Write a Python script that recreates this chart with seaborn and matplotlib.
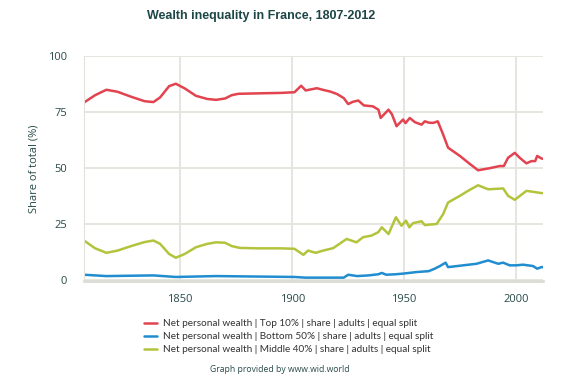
import matplotlib
matplotlib.use("Agg")
import matplotlib.pyplot as plt
import pandas as pd
import seaborn as sns
from matplotlib.lines import Line2D

# Top 10% share
top10_years = [1807, 1812, 1817, 1822, 1828, 1834, 1838, 1841, 1845, 1848, 1852, 1857,
               1862, 1866, 1870, 1873, 1876, 1885, 1895, 1901, 1904, 1906, 1908, 1911,
               1914, 1917, 1920, 1923, 1925, 1927, 1929.5, 1932, 1936, 1938.5, 1939.5,
               1943, 1944.5, 1946.6, 1949.5, 1950.6, 1952.5, 1954.8, 1957.8, 1959.2,
               1961, 1963, 1965, 1967.4, 1969.6, 1974.9, 1979, 1983, 1988, 1992.7,
               1994.5, 1996.4, 1999.4, 2001.6, 2004.6, 2006.8, 2008.5, 2009.4, 2011.3,
               2012]
top10_vals = [79.2, 82.5, 84.9, 84.0, 81.8, 79.8, 79.4, 81.5, 86.5, 87.6, 85.5, 82.2,
              80.8, 80.4, 81.0, 82.5, 83.1, 83.3, 83.5, 83.8, 86.7, 84.6, 85.0, 85.6,
              84.8, 84.1, 83.0, 81.2, 78.5, 79.5, 80.1, 77.9, 77.5, 76.0, 72.3,
              76.0, 74.0, 68.6, 71.6, 70.0, 72.3, 70.4, 69.3, 70.8,
              70.2, 70.1, 70.8, 64.9, 59.0, 55.3, 52.0, 48.9, 49.8, 50.8,
              50.8, 54.5, 56.7, 54.5, 52.0, 53.0, 53.0, 55.3, 54.2,
              54.0]

# Bottom 50% share
bottom50_years = [1807, 1817, 1838, 1848, 1866, 1901, 1906, 1915, 1923, 1925, 1929,
                  1934, 1938.4, 1940, 1942, 1946, 1949.5, 1955.5, 1961, 1963.6, 1966,
                  1968.5, 1969.6, 1976.3, 1982.3, 1987.5, 1992, 1994.2, 1997.1, 2000,
                  2003.1, 2007.5, 2009.4, 2011.3, 2012]
bottom50_vals = [2.2, 1.6, 1.9, 1.2, 1.6, 1.2, 0.9, 0.9, 0.9, 2.2, 1.6,
                 1.9, 2.4, 3.0, 2.2, 2.4, 2.7, 3.4, 3.8, 4.9, 6.1,
                 7.6, 5.6, 6.4, 7.1, 8.6, 7.1, 7.6, 6.4, 6.4,
                 6.7, 6.1, 4.9, 5.6, 5.6]

# Middle 40% share
middle40_years = [1807, 1812, 1817, 1822, 1828, 1834, 1838, 1841, 1845, 1848, 1852,
                  1857, 1862, 1866, 1870, 1873, 1876.6, 1885, 1895, 1901, 1905, 1907,
                  1909.4, 1910.5, 1913.8, 1918.3, 1924.3, 1928.7, 1931.7, 1935.4,
                  1938.4, 1940, 1943, 1946.3, 1948.8, 1950.8, 1952.3, 1954, 1957.8,
                  1959.2, 1964.5, 1967.4, 1969.6, 1974.9, 1979, 1983, 1987.5, 1991,
                  1994.2, 1996.4, 1999.4, 2004.6, 2007.5, 2009.4, 2011.3, 2012]
middle40_vals = [17.5, 14.0, 12.0, 13.0, 15.0, 16.8, 17.5, 16.0, 11.5, 9.8, 11.5,
                 14.5, 16.0, 16.7, 16.5, 15.0, 14.2, 14.0, 14.0, 13.8, 11.1, 13.0,
                 12.3, 12.0, 13.0, 14.1, 18.2, 16.7, 19.0, 19.7,
                 21.2, 23.4, 20.4, 27.9, 24.1, 26.4, 23.4, 25.3, 26.1,
                 24.4, 24.9, 29.3, 34.5, 37.5, 40.0, 42.2, 40.4, 40.6,
                 40.8, 37.5, 35.7, 39.7, 39.3, 39.0, 38.7, 38.7]

labels = [
    "Net personal wealth | Top 10% | share | adults | equal split",
    "Net personal wealth | Bottom 50% | share | adults | equal split",
    "Net personal wealth | Middle 40% | share | adults | equal split",
]
colors = ["#e2434f", "#1f8dd0", "#b3c43c"]

df = pd.concat([
    pd.DataFrame({"year": top10_years, "share": top10_vals, "series": labels[0]}),
    pd.DataFrame({"year": bottom50_years, "share": bottom50_vals, "series": labels[1]}),
    pd.DataFrame({"year": middle40_years, "share": middle40_vals, "series": labels[2]}),
])

sns.set_style("white")
plt.rcParams["font.family"] = ["Open Sans", "DejaVu Sans"]

text_col = "#274a48"
grid_col = "#e2e1dc"

fig = plt.figure(figsize=(5.8, 3.77), dpi=100)
ax = fig.add_axes([84 / 580, 1 - 281 / 377, 459 / 580, 225 / 377])

sns.lineplot(data=df, x="year", y="share", hue="series", hue_order=labels,
             palette=colors, linewidth=1.8, legend=False, ax=ax, sort=True,
             estimator=None)

ax.set_xlim(1807, 2012)
ax.set_ylim(-0.6, 100)
ax.set_xticks([1850, 1900, 1950, 2000])
ax.set_yticks([0, 25, 50, 75, 100])
ax.grid(True, color=grid_col, linewidth=1.2)
ax.set_axisbelow(True)
for s in ["top", "right"]:
    ax.spines[s].set_visible(False)
ax.spines["left"].set_color(grid_col)
ax.spines["bottom"].set_color("#dcdcd6")
ax.spines["bottom"].set_linewidth(2)
ax.tick_params(axis="both", length=0, labelsize=8, labelcolor=text_col)
ax.tick_params(axis="y", pad=12)
ax.tick_params(axis="x", pad=9)
ax.set_xlabel("")
ax.set_ylabel("Share of total (%)", fontsize=8, color=text_col)
ax.yaxis.set_label_coords(-0.096, 0.5)

fig.text(0.45, 0.958, "Wealth inequality in France, 1807-2012", ha="center",
         va="center", fontsize=9.0, fontweight="bold", color="#1d4646",
         family=["Liberation Sans", "DejaVu Sans"])

handles = [Line2D([0], [0], color=c, lw=1.8) for c in colors]
fig.legend(handles, labels, loc="upper left", bbox_to_anchor=(144 / 580, 1 - 319 / 377),
           frameon=False, handlelength=1.3, handletextpad=0.6,
           labelspacing=0.42, borderaxespad=0, borderpad=0,
           labelcolor="#333333", prop={"family": ["Lato", "DejaVu Sans"], "size": 7.2})

fig.text(280 / 580, 1 - 369 / 377, "Graph provided by www.wid.world", ha="center",
         va="center", fontsize=6.2, color=text_col)

fig.savefig("out.png", dpi=100)
